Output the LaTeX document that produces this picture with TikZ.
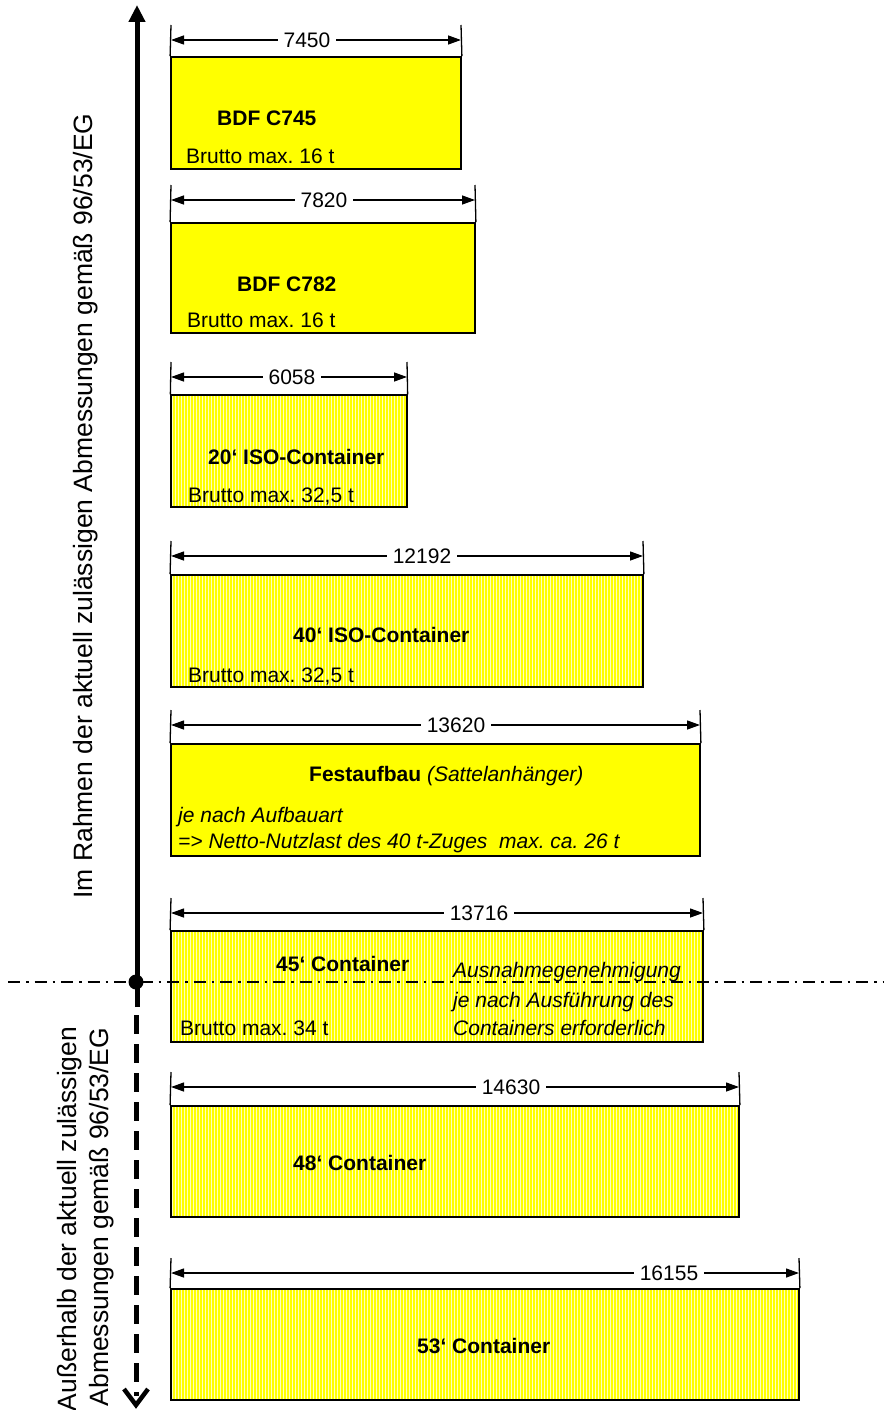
\documentclass[tikz,border=0pt]{standalone}
\usepackage{fontspec}
\setmainfont{Liberation Sans}
\usetikzlibrary{arrows.meta,patterns.meta}
\frenchspacing
\definecolor{ylw}{RGB}{255,255,0}
\definecolor{ylwpale}{RGB}{255,255,190}
\newcommand\boxfont{\fontsize{21}{25}\selectfont}
\newcommand\sidefont{\fontsize{26.5}{31}\selectfont}
\newcommand\mkbox[8]{%
  \coordinate (#1L) at (171,#5);
  \coordinate (#1R) at (#2,#5);
  \coordinate (#1Lt) at (171,{#5-15});
  \coordinate (#1Rt) at (#2,{#5-15});
  \node[#8, minimum width={#2pt-171pt}, minimum height={#4pt-#3pt}] (#1) at ({(171+#2)/2},{(#3+#4)/2}) {};
  \draw[extline] (#1Lt) -- (#1.north west);
  \draw[extline] (#1Rt) -- (#1.north east);
  \draw[dimline] (#1L) -- (#1R);
  \node[dimlabel] (#1lab) at (#6,{#5+7.5}) {#7};
}
\tikzset{
  solidbox/.style={draw, line width=1.8pt, fill=ylw, inner sep=0pt},
  stripebox/.style={draw, line width=1.8pt, inner sep=0pt,
    preaction={fill=ylwpale},
    pattern={Lines[angle=90,distance=3pt,line width=1.3pt]}, pattern color=ylw},
  extline/.style={line width=1.3pt},
  dimline/.style={line width=1.3pt, {Triangle[length=13pt,width=9pt]}-{Triangle[length=13pt,width=9pt]}},
  dimlabel/.style={fill=white, inner xsep=6pt, inner ysep=1pt, anchor=base, font=\boxfont},
  txt/.style={anchor=base west, inner sep=0pt, font=\boxfont},
  btxt/.style={txt, font=\boxfont\bfseries},
  itxt/.style={txt, font=\boxfont\itshape},
  sidetxt/.style={rotate=90, anchor=base, inner sep=0pt, font=\sidefont},
}
\begin{document}
\begin{tikzpicture}[x=1pt,y=-1pt]
\useasboundingbox (0,0) rectangle (883,1410);
% boxes
\mkbox{b1}{461}{57}{169}{40}{307}{7450}{solidbox}
\mkbox{b2}{475}{223}{333}{200}{324}{7820}{solidbox}
\mkbox{b3}{407}{395}{507}{377}{292}{6058}{stripebox}
\mkbox{b4}{643}{575}{687}{556}{422}{12192}{stripebox}
\mkbox{b5}{700}{744}{856}{725}{456}{13620}{solidbox}
\mkbox{b6}{703}{931}{1042}{913}{479}{13716}{stripebox}
\mkbox{b7}{739}{1106}{1217}{1087}{511}{14630}{stripebox}
\mkbox{b8}{799}{1289}{1400}{1273}{669}{16155}{stripebox}
% texts
\node[btxt] (t1a) at (217,126) {BDF C745};
\node[txt]  (t1b) at (186,164) {Brutto max. 16 t};
\node[btxt] (t2a) at (237,291) {BDF C782};
\node[txt]  (t2b) at (187,327) {Brutto max. 16 t};
\node[btxt] (t3a) at (208,464) {20‘ ISO-Container};
\node[txt]  (t3b) at (188,502) {Brutto max. 32,5 t};
\node[btxt] (t4a) at (293,642) {40‘ ISO-Container};
\node[txt]  (t4b) at (188,682) {Brutto max. 32,5 t};
\node[txt]  (t5a) at (309,781) {\bfseries Festaufbau \mdseries\itshape (Sattelanhänger)};
\node[itxt] (t5b) at (178,822) {je nach Aufbauart};
\node[itxt] (t5c) at (178,848.5) {=> Netto-Nutzlast des 40 t-Zuges \ max. ca. 26 t};
\node[btxt] (t6a) at (276,971) {45‘ Container};
\node[txt]  (t6b) at (180,1035.5) {Brutto max. 34 t};
\node[itxt] (t6c) at (453,977.5) {Ausnahmegenehmigung};
\node[itxt] (t6d) at (453,1007.5) {je nach Ausführung des};
\node[itxt] (t6e) at (453,1035.5) {Containers erforderlich};
\node[btxt] (t7a) at (293,1170) {48‘ Container};
\node[btxt] (t8a) at (417,1353) {53‘ Container};
% axis
\coordinate (axtop) at (137,5);
\coordinate (axbot) at (137,1007);
\coordinate (dashtop) at (136,1015);
\coordinate (dashbot) at (136,1396);
\coordinate (chl) at (124,1389);
\coordinate (chtip) at (136,1405);
\coordinate (chr) at (148,1389);
\coordinate (hl) at (8,982);
\coordinate (hr) at (883,982);
\draw[line width=2pt, dash pattern=on 12pt off 6pt on 2.5pt off 6pt] (hl) -- (hr);
\draw[line width=5pt, -{Triangle[length=17pt,width=16pt]}] (axbot) -- (axtop);
\node[circle, fill=black, inner sep=0pt, minimum size=15pt] (dot) at (136,982) {};
\draw[line width=5pt, dash pattern=on 19pt off 10pt] (dashtop) -- (dashbot);
\draw[line width=4.5pt, line join=miter] (chl) -- (chtip) -- (chr);
% side labels
\node[sidetxt] (s1) at (92,506) {Im Rahmen der aktuell zulässigen Abmessungen gemäß 96/53/EG};
\node[sidetxt] (s2) at (76,1219) {Außerhalb der aktuell zulässigen};
\node[sidetxt] (s3) at (108,1217) {Abmessungen gemäß 96/53/EG};
\end{tikzpicture}
\end{document}
